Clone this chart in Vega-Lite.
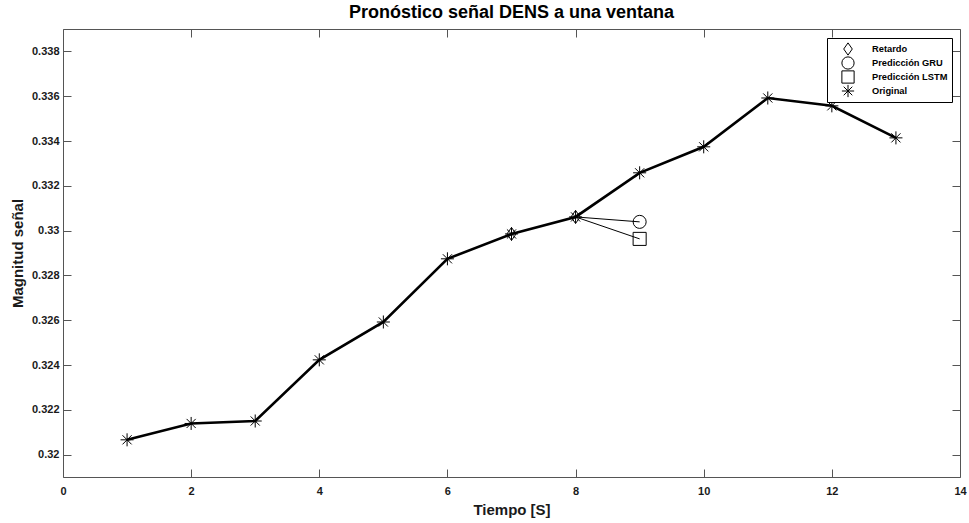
{
  "$schema": "https://vega.github.io/schema/vega-lite/v6.json",
  "autosize": "none",
  "width": 897,
  "height": 448,
  "padding": {"left": 63, "top": 29, "right": 9, "bottom": 46},
  "background": "white",
  "title": {
    "text": "Pronóstico señal DENS a una ventana",
    "font": "Liberation Sans",
    "fontSize": 18,
    "fontWeight": "bold",
    "color": "#000000",
    "anchor": "middle",
    "offset": 7
  },
  "datasets": {
    "points": [
      {"t": 1, "v": 0.32066, "serie": "Original"},
      {"t": 2, "v": 0.32139, "serie": "Original"},
      {"t": 3, "v": 0.3215, "serie": "Original"},
      {"t": 4, "v": 0.32423, "serie": "Original"},
      {"t": 5, "v": 0.32592, "serie": "Original"},
      {"t": 6, "v": 0.32874, "serie": "Original"},
      {"t": 7, "v": 0.32985, "serie": "Original"},
      {"t": 8, "v": 0.33061, "serie": "Original"},
      {"t": 9, "v": 0.33258, "serie": "Original"},
      {"t": 10, "v": 0.33374, "serie": "Original"},
      {"t": 11, "v": 0.33592, "serie": "Original"},
      {"t": 12, "v": 0.33557, "serie": "Original"},
      {"t": 13, "v": 0.33414, "serie": "Original"},
      {"t": 7, "v": 0.32985, "serie": "Retardo"},
      {"t": 8, "v": 0.33061, "serie": "Retardo"},
      {"t": 9, "v": 0.33039, "serie": "Predicción GRU"},
      {"t": 9, "v": 0.32963, "serie": "Predicción LSTM"}
    ],
    "links": [
      {"t": 8, "v": 0.33061, "t2": 9, "v2": 0.33039, "serie": "Predicción GRU"},
      {"t": 8, "v": 0.33061, "t2": 9, "v2": 0.32963, "serie": "Predicción LSTM"}
    ]
  },
  "config": {
    "view": {"stroke": null},
    "axis": {
      "grid": false,
      "domainColor": "#555555",
      "domainWidth": 1,
      "tickColor": "#555555",
      "tickSize": -8,
      "tickWidth": 1,
      "labelFont": "Liberation Sans",
      "labelFontSize": 11,
      "labelFontWeight": "bold",
      "labelColor": "#1a1a1a",
      "titleFont": "Liberation Sans",
      "titleFontSize": 15,
      "titleFontWeight": "bold",
      "titleColor": "#1a1a1a"
    }
  },
  "resolve": {"axis": {"x": "independent", "y": "independent"}},
  "layer": [
    {
      "data": {"name": "points"},
      "transform": [{"filter": "datum.serie === 'Original'"}],
      "mark": {"type": "line", "color": "#000000", "strokeWidth": 2.6},
      "encoding": {
        "x": {
          "field": "t", "type": "quantitative",
          "scale": {"domain": [0, 14], "nice": false, "zero": false},
          "axis": {"orient": "bottom", "values": [0, 2, 4, 6, 8, 10, 12, 14], "title": "Tiempo [S]", "labelPadding": 16, "titlePadding": 6, "labelFlush": false}
        },
        "y": {
          "field": "v", "type": "quantitative",
          "scale": {"domain": [0.319, 0.339], "nice": false, "zero": false},
          "axis": {"orient": "left", "values": [0.32, 0.322, 0.324, 0.326, 0.328, 0.33, 0.332, 0.334, 0.336, 0.338], "labelExpr": "format(datum.value, '~g')", "title": "Magnitud señal", "labelPadding": 12, "titlePadding": 6}
        }
      }
    },
    {
      "data": {"name": "links"},
      "mark": {"type": "rule", "color": "#000000", "strokeWidth": 1},
      "encoding": {
        "x": {
          "field": "t", "type": "quantitative",
          "axis": {"orient": "top", "values": [0, 2, 4, 6, 8, 10, 12, 14], "labels": false, "title": null}
        },
        "y": {
          "field": "v", "type": "quantitative",
          "axis": {"orient": "right", "values": [0.32, 0.322, 0.324, 0.326, 0.328, 0.33, 0.332, 0.334, 0.336, 0.338], "labels": false, "title": null}
        },
        "x2": {"field": "t2"},
        "y2": {"field": "v2"}
      }
    },
    {
      "data": {"name": "points"},
      "mark": {"type": "point", "filled": false, "color": "#000000", "strokeWidth": 1, "size": 170, "opacity": 1},
      "encoding": {
        "x": {"field": "t", "type": "quantitative", "axis": null},
        "y": {"field": "v", "type": "quantitative", "axis": null},
        "shape": {
          "field": "serie", "type": "nominal",
          "scale": {
            "domain": ["Retardo", "Predicción GRU", "Predicción LSTM", "Original"],
            "range": ["M0,-1L0.7,0L0,1L-0.7,0Z", "circle", "square", "M0,-1L0,1M-1,0L1,0M-0.7,-0.7L0.7,0.7M-0.7,0.7L0.7,-0.7"]
          },
          "legend": {
            "title": null,
            "orient": "none",
            "legendX": 764,
            "legendY": 9,
            "direction": "vertical",
            "fillColor": "white",
            "strokeColor": "#000000",
            "padding": 4,
            "symbolOffset": 10,
            "labelOffset": 17,
            "rowPadding": 0,
            "clipHeight": 14,
            "symbolSize": 150,
            "symbolStrokeColor": "#000000",
            "symbolFillColor": "transparent",
            "symbolStrokeWidth": 1,
            "labelFont": "Liberation Sans",
            "labelFontSize": 9.3,
            "labelFontWeight": "bold",
            "labelColor": "#000000"
          }
        }
      }
    }
  ]
}
